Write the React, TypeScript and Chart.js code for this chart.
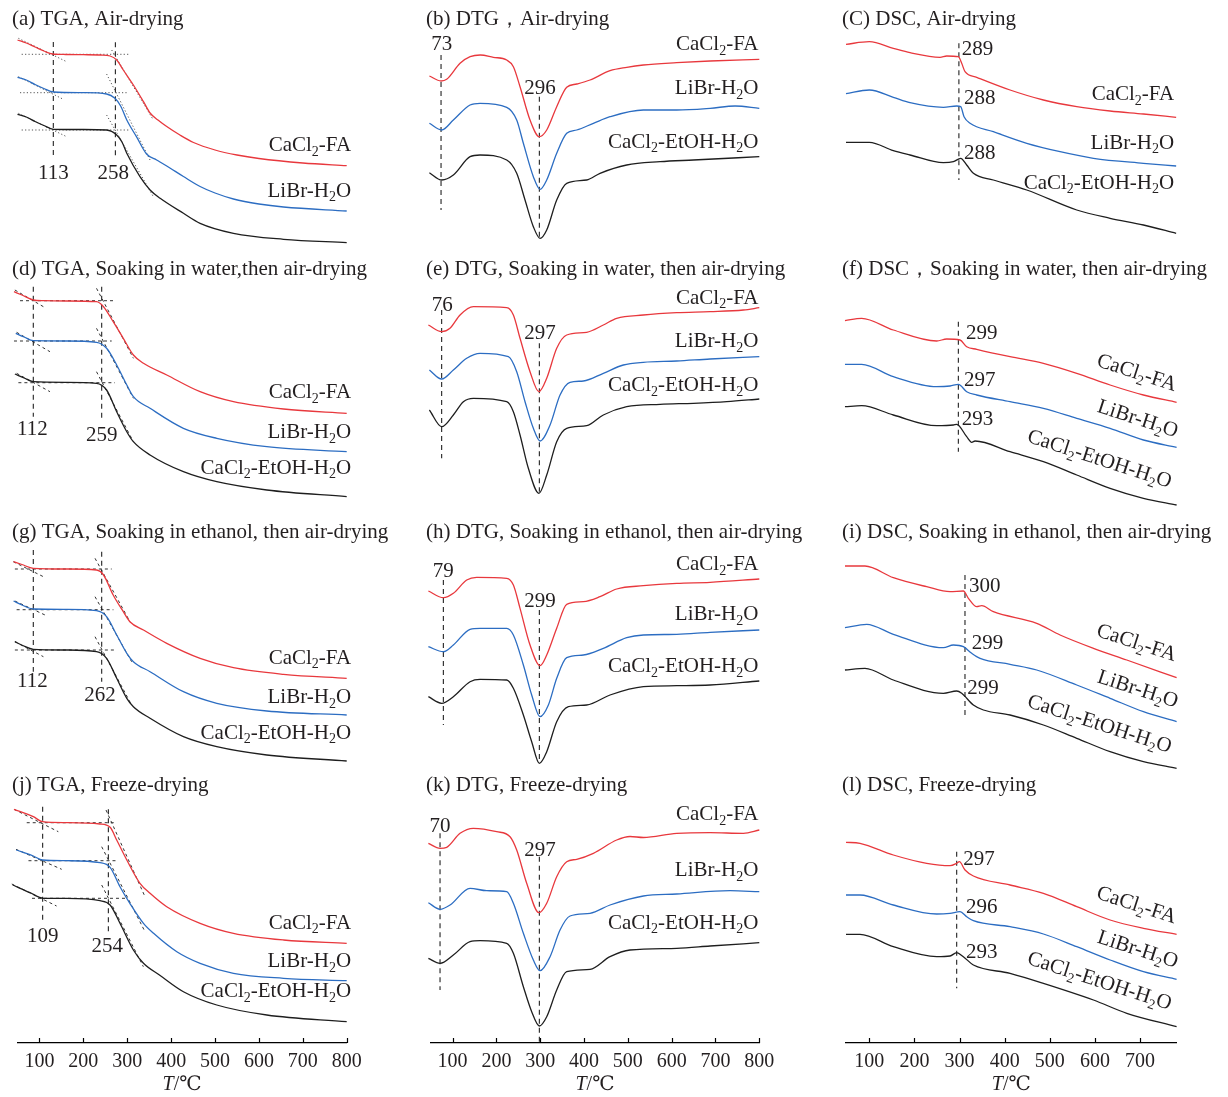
import React, { useEffect, useRef } from 'react';
import { Chart, registerables } from 'chart.js';
Chart.register(...registerables);

type Pt = [number, number];
const FONT = '"Liberation Serif", "Times New Roman", "DejaVu Serif", serif';
const RED = '#e8383d';
const BLUE = '#2c6dc2';
const BLACK = '#1e1e1e';
const INK = '#231f20';

// ---- x-axis ticks (°C) ----
const TGA_TICKS = [100, 200, 300, 400, 500, 600, 700, 800];
const DTG_TICKS = [100, 200, 300, 400, 500, 600, 700, 800];
const DSC_TICKS = [100, 200, 300, 400, 500, 600, 700];

// series names (underscore = subscript)
const FA = 'CaCl_2-FA';
const LB = 'LiBr-H_2O';
const ET = 'CaCl_2-EtOH-H_2O';

// ---- signals (T °C, relative offset in a.u., larger = lower in panel) ----
// (a) TGA air-drying
const aRed: Pt[] = [[50,40],[70,43],[90,47],[110,51],[130,54],[160,54.5],[200,54.7],[240,55],[261,56],[276,60],[291,70],[314,85],[337,101.7],[352,113],[370,120],[390,126.5],[420,135],[451,142.5],[500,150],[550,155],[600,158.5],[700,163],[800,165.7]];
const aBlue: Pt[] = [[50,77.3],[70,80],[90,84.5],[110,88.5],[132,92],[200,92.7],[253,94],[272,98.3],[285,106],[299,120],[321,136.7],[344,154],[367,160],[390,166],[428,176.5],[466,186.5],[500,193],[542,199],[600,204],[656,207],[800,211]];
const aBlack: Pt[] = [[50,114.3],[70,117],[90,121.5],[110,125.5],[132,129.3],[200,129.5],[253,130],[276,135],[288,142],[299,153.3],[329,176.7],[352,190],[375,198.3],[428,213.3],[466,223.3],[542,233.3],[656,239.3],[800,242.7]];
// (d) TGA water
const dRed: Pt[] = [[42,36.7],[60,40],[86,45],[110,45.7],[162,46],[230,46.7],[246,51.7],[268,66.7],[291,83.3],[314,100],[337,108.3],[390,120],[466,136.7],[542,146.7],[656,154],[800,158.3]];
const dBlue: Pt[] = [[46,78.3],[65,82],[86,85.7],[162,86],[230,87.3],[253,93.3],[276,110],[299,130],[314,141.7],[352,153.3],[428,173.3],[504,183.3],[618,191.7],[800,196.7]];
const dBlack: Pt[] = [[44,119],[65,123],[86,126.7],[162,127.3],[230,128.3],[253,135],[276,156.7],[299,176.7],[314,186.7],[352,200],[428,216.7],[504,226.7],[618,235],[800,241.7]];
// (g) TGA ethanol
const gRed: Pt[] = [[41,46.7],[60,49.5],[86,53.3],[162,54],[230,55],[246,60],[268,80],[291,96.7],[306,106.7],[337,115],[390,128.3],[466,143.3],[542,152.7],[656,159.3],[800,163.3]];
const gBlue: Pt[] = [[41,86],[60,90],[86,94],[162,94.3],[230,95.7],[253,101.7],[276,120],[299,138.3],[314,146.7],[352,156.7],[428,176.7],[504,188.3],[618,196],[800,200]];
const gBlack: Pt[] = [[44,126.7],[62,130.5],[86,134.3],[162,135],[230,136.7],[253,143.3],[276,163.3],[299,183.3],[314,191.7],[352,203.3],[428,221.7],[504,231.7],[618,240],[800,246]];
// (j) TGA freeze
const jRed: Pt[] = [[42,39.3],[86,46.7],[107,51.7],[162,52.7],[238,54],[261,57.3],[276,70],[299,90],[329,113.3],[352,123.3],[390,136.7],[466,153.3],[542,163.3],[656,170],[800,173.3]];
const jBlue: Pt[] = [[47,80],[86,86],[107,90],[162,90.7],[238,92.7],[261,97.3],[283.5,116.7],[306,133.3],[337,153.3],[360,163.3],[413,181.7],[466,193.3],[542,203.3],[656,208.3],[800,210.7]];
const jBlack: Pt[] = [[39,115],[78.5,122.7],[109,128.3],[162,128.3],[238,130.7],[261,135],[283.5,153.3],[314,180],[337,193.3],[375,205.5],[428,221.7],[504,235],[618,245],[800,251.7]];
// (b) DTG air
const bRed: Pt[] = [[47,76],[73.6,81],[86.5,79.3],[117,63.3],[140,56.7],[163,55],[193,57.3],[223.5,60],[238.7,66.7],[253.9,86.7],[276.7,120],[298,136.7],[314.8,130],[337.6,106.7],[360.4,87.3],[383.3,84],[413.7,80],[459.3,70.7],[497.4,67.3],[535.4,65],[611.5,62.7],[687.6,61],[800,59.3]];
const bBlue: Pt[] = [[47,123.3],[75,130],[101.7,120],[139.8,105],[162.6,103.3],[223.5,107.3],[246.3,120],[261.5,143.3],[284.3,176.7],[299.6,189.3],[314.8,180],[337.6,153.3],[360.4,133.3],[383.3,130],[421.3,123.3],[459.3,116.7],[535.4,110],[611.5,110],[687.6,108.3],[744.7,106],[800,108.3]];
const bBlack: Pt[] = [[47,172.7],[75,180],[101.7,175],[139.8,156.7],[162.6,155],[223.5,160],[246.3,173.3],[265.3,200],[284.3,226.7],[299.6,238.3],[314.8,230],[337.6,200],[360.4,183.3],[406,180],[436.5,173.3],[497.4,165],[573.5,161.7],[649.6,160],[800,156.7]];
// (e) DTG water
const eRed: Pt[] = [[44.7,70],[75,76.7],[94,73.3],[117,60],[147.4,51.7],[223.5,52.7],[238.7,60],[253.9,83.3],[276.7,116.7],[297,136.7],[314.8,123.3],[337.6,93.3],[360.4,80],[406,77.3],[444,70],[474.5,63.3],[535.4,60],[611.5,57.7],[687.6,56.7],[763.7,55],[800,52.7]];
const eBlue: Pt[] = [[47,115],[75,124],[101.7,115],[132.2,103.3],[162.6,98.3],[227.3,101.7],[246.3,116.7],[265.3,146.7],[284.3,173.3],[299.6,186],[322.4,170],[345.2,140],[368,127.3],[398.5,126],[444,118.3],[489.8,110],[535.4,107.3],[611.5,106],[687.6,104],[800,101.7]];
const eBlack: Pt[] = [[47,155],[75,171.7],[101.7,160],[124.6,146.7],[147.4,143.3],[223.5,146.7],[238.7,156.7],[253.9,180],[272.9,213.3],[297,238.3],[314.8,220],[337.6,186.7],[360.4,173.3],[406,170.7],[444,160],[497.4,151.7],[573.5,149.3],[649.6,148.3],[725.7,146.7],[800,144]];
// (h) DTG ethanol
const hRed: Pt[] = [[44.7,76],[78.9,82.7],[101.7,78.3],[132.2,65],[155,62.3],[223.5,63.3],[238.7,70],[253.9,93.3],[276.7,130],[299.6,150.7],[314.8,140],[337.6,113.3],[360.4,89.3],[398.5,86.7],[436.5,81.7],[474.5,74],[535.4,70.7],[611.5,68.3],[687.6,67.3],[800,64]];
const hBlue: Pt[] = [[44.7,131.7],[78.9,136.7],[101.7,130],[139.8,114.3],[162.6,113.3],[223.5,113.3],[238.7,120],[261.5,150],[280.5,180],[299.6,201.7],[318.6,190],[337.6,163.3],[360.4,142.7],[398.5,140],[444,133.3],[497.4,122.7],[535.4,120],[611.5,119.3],[687.6,117.3],[800,115]];
const hBlack: Pt[] = [[44.7,181.7],[75,188.3],[101.7,181.7],[139.8,166.7],[162.6,164.3],[223.5,165],[238.7,173.3],[261.5,200],[280.5,226.7],[298,248.3],[314.8,236.7],[337.6,206.7],[364.2,191.7],[406,190],[459.3,180],[535.4,171.7],[611.5,170.7],[687.6,170],[800,166]];
// (k) DTG freeze
const kRed: Pt[] = [[44.7,73.3],[71.3,78.3],[86.5,77.3],[117,63.3],[147.4,58.3],[200.6,61.7],[231.1,66.7],[246.3,80],[269.1,113.3],[297,142.7],[314.8,133.3],[337.6,106.7],[360.4,91.7],[383.3,89.3],[421.3,83.3],[474.5,70],[505,66.5],[535.4,67.5],[611.5,63.3],[687.6,62.7],[763.7,63.3],[800,60]];
const kBlue: Pt[] = [[44.7,132.7],[71.3,139.3],[94.1,135],[139.8,118.3],[177.8,120.7],[223.5,121.7],[238.7,133.3],[261.5,163.3],[284.3,190],[299.6,200.7],[322.4,186.7],[345.2,160],[368,146],[413.7,143.3],[459.3,135],[535.4,126],[611.5,124],[733.3,120.7],[800,121.7]];
const kBlack: Pt[] = [[44.7,188.3],[71.3,193.3],[101.7,185],[139.8,171.7],[162.6,170.7],[223.5,173.3],[238.7,183.3],[261.5,216.7],[280.5,241.7],[298,256],[314.8,246.7],[337.6,220],[360.4,201.7],[413.7,199.3],[459.3,186.7],[505,180],[611.5,178.3],[687.6,176],[800,172.7]];
// (c) DSC air
const cRed: Pt[] = [[48.3,44.3],[100,41.7],[153.2,48.3],[190.2,52.7],[256.7,57.3],[271.5,56],[297.3,56.7],[304.7,63.3],[312.1,71.7],[338,77.3],[411.9,90],[485.8,100],[559.7,106.7],[633.6,111],[707.5,114],[780,117.3]];
const cBlue: Pt[] = [[48.3,93.7],[100,90],[153.2,97.3],[190.2,102.7],[264.1,107.3],[293.6,106],[302.5,106.7],[309.9,116.7],[323.2,123.3],[374.9,131.7],[448.9,143.3],[522.8,151.7],[596.7,158.3],[707.5,163.3],[780,166]];
const cBlack: Pt[] = [[48.3,142.3],[100,142.3],[153.2,150.7],[190.2,155],[264.1,162.7],[286.3,161.7],[302.5,158.3],[315.8,165],[330.6,173.3],[374.9,180],[448.9,190],[559.7,210],[633.6,218.3],[707.5,225],[780,233.3]];
// (f) DSC water
const fRed: Pt[] = [[46,65.7],[83,63.3],[153.2,75],[249.3,86],[271.5,84],[301,85],[315.8,91.7],[338,94.3],[411.9,101.7],[485.8,108.3],[559.7,118.3],[633.6,130],[707.5,140],[781,147.3]];
const fBlue: Pt[] = [[46,109.3],[83,109.3],[153.2,121.7],[249.3,131.7],[278.9,131],[297.3,129.3],[315.8,136.7],[338,140],[411.9,146.7],[485.8,153.3],[559.7,163.3],[633.6,173.3],[707.5,185],[781,192.3]];
const fBlack: Pt[] = [[46,151.7],[83,150.7],[153.2,160],[249.3,170.7],[286.3,170],[293.6,169.3],[315.8,181.7],[326.9,187.3],[334.3,186],[411.9,196.7],[485.8,206.7],[559.7,220],[633.6,233.3],[707.5,243.3],[781,250]];
// (i) DSC ethanol
const iRed: Pt[] = [[46,51],[90.4,51],[153.2,62.7],[227.1,71.7],[278.9,76.7],[308.4,76],[319.5,83.3],[338,91.7],[349.1,90.7],[374.9,96.7],[471,108.3],[522.8,120],[596.7,133.3],[670.6,145],[781,162.7]];
const iBlue: Pt[] = [[46,112.7],[94.1,109.3],[153.2,119.3],[264.1,132.7],[286.3,130],[308.4,131.7],[326.9,138.3],[345.4,143.3],[411.9,149.3],[471,155],[559.7,170],[633.6,183.3],[707.5,196.7],[781,206.7]];
const iBlack: Pt[] = [[46,155],[90.4,153.3],[153.2,165],[264.1,178.3],[293.6,176],[304.7,178.3],[330.6,190],[352.8,195],[411.9,200],[485.8,210],[559.7,223.3],[633.6,236.7],[707.5,246.7],[781,253.3]];
// (l) DSC freeze
const lRed: Pt[] = [[48.3,72.3],[79.3,73.3],[153.2,85],[227.1,93.3],[278.9,95.7],[293.6,93.3],[299.6,91.7],[312.1,100],[330.6,106],[411.9,115],[485.8,123.3],[559.7,136.7],[633.6,150],[707.5,158.3],[781,164.3]];
const lBlue: Pt[] = [[48.3,125],[79.3,125],[153.2,135],[249.3,144],[278.9,143.3],[301,141.7],[315.8,146.7],[330.6,150.7],[411.9,156.7],[485.8,164],[559.7,176.7],[633.6,190],[707.5,201.7],[781,209.3]];
const lBlack: Pt[] = [[48.3,164.3],[79.3,164.3],[153.2,176.7],[249.3,186.7],[278.9,186],[293.6,182.7],[308.4,186.7],[330.6,195],[411.9,203.3],[485.8,213.3],[596.7,230],[670.6,243.3],[781,256.7]];

// ---- onset / peak marker lines: [T, yTop, yBottom] ----
const aMarks = [[131.6,42,158],[273,42.3,159.3]];
const dMarks = [[86,31.7,161.7],[241.8,31.7,166.7]];
const gMarks = [[86,35,156.7],[241.8,36.7,166.7]];
const jMarks = [[107.3,36.7,153.3],[257,39.3,165]];
const bMarks = [[73.6,55,210],[298,96.7,238.3]];
const eMarks = [[75,55,203.3],[298,88.3,236.7]];
const hMarks = [[78.9,65,210],[298,95,246.7]];
const kMarks = [[71.3,63.3,220],[298,86.7,271.7]];
const cMarks = [[298.5,43.3,180]];
const fMarks = [[297.3,66.7,196.7]];
const iMarks = [[312,60,201.7]];
const lMarks = [[293.6,81.7,218.3]];

// ---- tangent / baseline guides: [x1,y1,x2,y2] ----
const aGuides = [[59.5,54.3,306,54.3],[55.7,92.7,302.5,92.7],[59.5,130,302.5,130],[52,38.3,162,61.7],[52,76.7,154.4,99.3],[52,113.3,162,136.7],[264.6,50,359.5,120],[253,74,352,160],[253,115,359.5,196.7]];
const dGuides = [[55.7,45.7,268.5,45.7],[42,86,264.6,86],[52,127.7,272,127.7],[44,35,109,51.7],[48,77.3,124,96.7],[48,118.3,124,136.7],[230,33.3,314,103.3],[230,73.3,314,143.3],[230,116.7,314,186.7]];
const gGuides = [[44,54,264.6,54],[48,94.7,268.5,94.7],[44,135,272,135],[40.5,46.7,109,61.7],[44,86,112.7,100],[44,126.7,109,141.7],[226.6,43.3,306.3,106.7],[226.6,81.7,310,146.7],[226.6,121.7,310,190]];
const jGuides = [[71,52.7,272,52.7],[75,90.7,276,90.7],[83,128.3,298.7,128.3],[42,39.3,143,61.7],[46.6,79.3,150.6,99.3],[37,114,139,136],[251.6,40,340.5,126.7],[241.8,76.7,340.5,161.7],[241.8,115,336.7,196.7]];

// ---- value labels ----
type Lbl = { t: string; x: number; y: number; a: 'left' | 'center' | 'right'; r?: number };
const aNums: Lbl[] = [{ t: '113', x: 131.6, y: 172, a: 'center' }, { t: '258', x: 268, y: 172, a: 'center' }];
const dNums: Lbl[] = [{ t: '112', x: 83.8, y: 172.5, a: 'center' }, { t: '259', x: 241.8, y: 179, a: 'center' }];
const gNums: Lbl[] = [{ t: '112', x: 83.8, y: 165, a: 'center' }, { t: '262', x: 238, y: 179, a: 'center' }];
const jNums: Lbl[] = [{ t: '109', x: 107.3, y: 165, a: 'center' }, { t: '254', x: 254.7, y: 175, a: 'center' }];
const bNums: Lbl[] = [{ t: '73', x: 75, y: 43, a: 'center' }, { t: '296', x: 299.6, y: 87, a: 'center' }];
const eNums: Lbl[] = [{ t: '76', x: 76.6, y: 49, a: 'center' }, { t: '297', x: 299.6, y: 76.7, a: 'center' }];
const hNums: Lbl[] = [{ t: '79', x: 78.9, y: 55, a: 'center' }, { t: '299', x: 299.6, y: 85, a: 'center' }];
const kNums: Lbl[] = [{ t: '70', x: 71.3, y: 55, a: 'center' }, { t: '297', x: 299.6, y: 79, a: 'center' }];
const cNums: Lbl[] = [{ t: '289', x: 304.7, y: 48.3, a: 'left' }, { t: '288', x: 309.9, y: 96.7, a: 'left' }, { t: '288', x: 309.9, y: 151.7, a: 'left' }];
const fNums: Lbl[] = [{ t: '299', x: 314.3, y: 76.7, a: 'left' }, { t: '297', x: 309.9, y: 124, a: 'left' }, { t: '293', x: 304.7, y: 162.7, a: 'left' }];
const iNums: Lbl[] = [{ t: '300', x: 321, y: 70, a: 'left' }, { t: '299', x: 327, y: 126.7, a: 'left' }, { t: '299', x: 317.3, y: 171.7, a: 'left' }];
const lNums: Lbl[] = [{ t: '297', x: 308.4, y: 88.3, a: 'left' }, { t: '296', x: 314.3, y: 135.8, a: 'left' }, { t: '293', x: 314.3, y: 180.8, a: 'left' }];

// ---- series name labels ----
const aNames: Lbl[] = [{ t: FA, x: 810, y: 144, a: 'right' }, { t: LB, x: 810, y: 189.5, a: 'right' }];
const dNames: Lbl[] = [{ t: FA, x: 810, y: 136, a: 'right' }, { t: LB, x: 810, y: 176, a: 'right' }, { t: ET, x: 810, y: 211.7, a: 'right' }];
const gNames: Lbl[] = [{ t: FA, x: 810, y: 141.7, a: 'right' }, { t: LB, x: 810, y: 181, a: 'right' }, { t: ET, x: 810, y: 216.7, a: 'right' }];
const jNames: Lbl[] = [{ t: FA, x: 810, y: 151.7, a: 'right' }, { t: LB, x: 810, y: 190, a: 'right' }, { t: ET, x: 810, y: 220, a: 'right' }];
const bNames: Lbl[] = [{ t: FA, x: 798, y: 43.3, a: 'right' }, { t: LB, x: 798, y: 87.3, a: 'right' }, { t: ET, x: 798, y: 140.7, a: 'right' }];
const eNames: Lbl[] = [{ t: FA, x: 798, y: 41.7, a: 'right' }, { t: LB, x: 798, y: 85, a: 'right' }, { t: ET, x: 798, y: 129.3, a: 'right' }];
const hNames: Lbl[] = [{ t: FA, x: 798, y: 48.3, a: 'right' }, { t: LB, x: 798, y: 98.3, a: 'right' }, { t: ET, x: 798, y: 150, a: 'right' }];
const kNames: Lbl[] = [{ t: FA, x: 798, y: 43.3, a: 'right' }, { t: LB, x: 798, y: 99.3, a: 'right' }, { t: ET, x: 798, y: 151.7, a: 'right' }];
const cNames: Lbl[] = [{ t: FA, x: 775.5, y: 93.3, a: 'right' }, { t: LB, x: 775.5, y: 141.7, a: 'right' }, { t: ET, x: 775.5, y: 181.7, a: 'right' }];
const fNames: Lbl[] = [{ t: FA, x: 693.5, y: 116.7, a: 'center', r: 18 }, { t: LB, x: 695.7, y: 162.7, a: 'center', r: 18 }, { t: ET, x: 611, y: 203, a: 'center', r: 18 }];
const iNames: Lbl[] = [{ t: FA, x: 693, y: 126.7, a: 'center', r: 18 }, { t: LB, x: 696, y: 173, a: 'center', r: 18 }, { t: ET, x: 611, y: 208, a: 'center', r: 18 }];
const lNames: Lbl[] = [{ t: FA, x: 693, y: 134, a: 'center', r: 18 }, { t: LB, x: 696, y: 178.3, a: 'center', r: 18 }, { t: ET, x: 611, y: 210, a: 'center', r: 18 }];

// ---- layout ----
const COLS = [
  { left: 0, width: 410, areaL: 17.5, areaR: 346.7, min: 50, max: 800, ticks: TGA_TICKS, titleX: 12 },
  { left: 410, width: 400, areaL: 430.7, areaR: 759.3, min: 50, max: 800, ticks: DTG_TICKS, titleX: 16 },
  { left: 810, width: 418, areaL: 846, areaR: 1176.6, min: 48.3, max: 781, ticks: DSC_TICKS, titleX: 32 },
];
const ROWS = [
  { top: 0, height: 255, areaH: 255, titleY: 18 },
  { top: 255, height: 260, areaH: 260, titleY: 13 },
  { top: 515, height: 255, areaH: 255, titleY: 16 },
  { top: 770, height: 327, areaH: 273, titleY: 14 },
];

interface Spec { col: number; row: number; title: string; curves: Pt[][]; marks: number[][]; guides?: number[][]; dotted?: boolean; nums: Lbl[]; names: Lbl[] }
const PANELS: Spec[] = [
  { col: 0, row: 0, title: '(a) TGA, Air-drying', curves: [aRed, aBlue, aBlack], marks: aMarks, guides: aGuides, dotted: true, nums: aNums, names: aNames },
  { col: 1, row: 0, title: '(b) DTG，Air-drying', curves: [bRed, bBlue, bBlack], marks: bMarks, nums: bNums, names: bNames },
  { col: 2, row: 0, title: '(C) DSC, Air-drying', curves: [cRed, cBlue, cBlack], marks: cMarks, nums: cNums, names: cNames },
  { col: 0, row: 1, title: '(d) TGA, Soaking in water,then air-drying', curves: [dRed, dBlue, dBlack], marks: dMarks, guides: dGuides, nums: dNums, names: dNames },
  { col: 1, row: 1, title: '(e) DTG, Soaking in water, then air-drying', curves: [eRed, eBlue, eBlack], marks: eMarks, nums: eNums, names: eNames },
  { col: 2, row: 1, title: '(f) DSC，Soaking in water, then air-drying', curves: [fRed, fBlue, fBlack], marks: fMarks, nums: fNums, names: fNames },
  { col: 0, row: 2, title: '(g) TGA, Soaking in ethanol, then air-drying', curves: [gRed, gBlue, gBlack], marks: gMarks, guides: gGuides, nums: gNums, names: gNames },
  { col: 1, row: 2, title: '(h) DTG, Soaking in ethanol, then air-drying', curves: [hRed, hBlue, hBlack], marks: hMarks, nums: hNums, names: hNames },
  { col: 2, row: 2, title: '(i) DSC, Soaking in ethanol, then air-drying', curves: [iRed, iBlue, iBlack], marks: iMarks, nums: iNums, names: iNames },
  { col: 0, row: 3, title: '(j) TGA, Freeze-drying', curves: [jRed, jBlue, jBlack], marks: jMarks, guides: jGuides, nums: jNums, names: jNames },
  { col: 1, row: 3, title: '(k) DTG, Freeze-drying', curves: [kRed, kBlue, kBlack], marks: kMarks, nums: kNums, names: kNames },
  { col: 2, row: 3, title: '(l) DSC, Freeze-drying', curves: [lRed, lBlue, lBlack], marks: lMarks, nums: lNums, names: lNames },
];

function parseRich(s: string): [string, boolean][] {
  const out: [string, boolean][] = [];
  let buf = '';
  for (let i = 0; i < s.length; i++) {
    if (s[i] === '_' && i + 1 < s.length) {
      if (buf) out.push([buf, false]);
      buf = '';
      out.push([s[i + 1], true]);
      i++;
    } else buf += s[i];
  }
  if (buf) out.push([buf, false]);
  return out;
}

function drawRich(ctx: CanvasRenderingContext2D, s: string, x: number, y: number, align: string, size: number, rot = 0) {
  const segs = parseRich(s);
  const big = `${size}px ${FONT}`;
  const small = `${Math.round(size * 0.68)}px ${FONT}`;
  let w = 0;
  const widths = segs.map(([t, sub]) => {
    ctx.font = sub ? small : big;
    const m = ctx.measureText(t).width;
    w += m;
    return m;
  });
  ctx.save();
  ctx.translate(x, y);
  ctx.rotate((rot * Math.PI) / 180);
  let cx = align === 'left' ? 0 : align === 'right' ? -w : -w / 2;
  const base = size * 0.34;
  ctx.textBaseline = 'alphabetic';
  ctx.textAlign = 'left';
  segs.forEach(([t, sub], i) => {
    ctx.font = sub ? small : big;
    ctx.fillText(t, cx, sub ? base + size * 0.22 : base);
    cx += widths[i];
  });
  ctx.restore();
}

const textPlugin = {
  id: 'panelText',
  afterDraw(chart: any, _args: any, opts: any) {
    const ctx: CanvasRenderingContext2D = chart.ctx;
    const xs = chart.scales.x;
    const ys = chart.scales.y;
    ctx.save();
    ctx.fillStyle = INK;
    drawRich(ctx, opts.title, opts.titleX, opts.titleY, 'left', 21);
    for (const l of opts.labels as Lbl[]) {
      drawRich(ctx, l.t, xs.getPixelForValue(l.x), ys.getPixelForValue(l.y), l.a, 21, l.r || 0);
    }
    if (opts.axis) {
      const area = chart.chartArea;
      ctx.strokeStyle = '#000';
      ctx.lineWidth = 1.2;
      for (const t of xs.ticks) {
        const p = Math.round(xs.getPixelForValue(t.value)) + 0.5;
        ctx.beginPath();
        ctx.moveTo(p, area.bottom);
        ctx.lineTo(p, area.bottom - 5);
        ctx.stroke();
      }
      const cxm = (area.left + area.right) / 2;
      const yb = area.bottom + 47;
      ctx.font = `italic 20px ${FONT}`;
      const wT = ctx.measureText('T').width;
      ctx.font = `20px ${FONT}`;
      const wR = ctx.measureText('/℃').width;
      const x0 = cxm - (wT + wR) / 2;
      ctx.textBaseline = 'alphabetic';
      ctx.textAlign = 'left';
      ctx.font = `italic 20px ${FONT}`;
      ctx.fillText('T', x0, yb);
      ctx.font = `20px ${FONT}`;
      ctx.fillText('/℃', x0 + wT, yb);
    }
    ctx.restore();
  },
};

function lineDs(pts: number[][], color: string, width: number, dash: number[], smooth: boolean) {
  return {
    data: pts.map(([x, y]) => ({ x, y })),
    borderColor: color,
    borderWidth: width,
    borderDash: dash,
    pointRadius: 0,
    fill: false,
    tension: smooth ? 0.4 : 0,
    cubicInterpolationMode: smooth ? 'monotone' : 'default',
    clip: false,
  };
}

function buildConfig(spec: Spec): any {
  const c = COLS[spec.col];
  const r = ROWS[spec.row];
  const isBottom = spec.row === 3;
  const datasets: any[] = [];
  const colors = [RED, BLUE, BLACK];
  spec.curves.forEach((pts, i) => datasets.push(lineDs(pts, colors[i], 1.3, [], true)));
  for (const m of spec.marks) datasets.push(lineDs([[m[0], m[1]], [m[0], m[2]]], '#222', 1.1, [5, 4], false));
  for (const g of spec.guides || []) {
    datasets.push(lineDs([[g[0], g[1]], [g[2], g[3]]], spec.dotted ? '#555' : '#333', 1, spec.dotted ? [1.2, 2.2] : [3, 3], false));
  }
  return {
    type: 'line',
    data: { datasets },
    plugins: [textPlugin],
    options: {
      responsive: false,
      animation: false,
      devicePixelRatio: 1,
      layout: { padding: { left: c.areaL - c.left, right: c.left + c.width - c.areaR, top: 0, bottom: 0 } },
      plugins: {
        legend: { display: false },
        tooltip: { enabled: false },
        panelText: {
          title: spec.title,
          titleX: c.titleX,
          titleY: r.titleY,
          labels: [...spec.nums, ...spec.names],
          axis: isBottom,
        },
      },
      scales: {
        x: {
          type: 'linear',
          min: c.min,
          max: c.max,
          display: isBottom,
          afterBuildTicks: (s: any) => {
            s.ticks = c.ticks.map((v) => ({ value: v }));
          },
          afterFit: (s: any) => {
            s.height = r.height - r.areaH;
          },
          grid: { display: true, drawOnChartArea: false, drawTicks: false },
          border: { display: true, color: '#000', width: 1.2 },
          ticks: { font: { family: FONT, size: 20 }, color: INK, padding: 7, maxRotation: 0, autoSkip: false },
        },
        y: { type: 'linear', display: false, min: 0, max: r.areaH, reverse: true },
      },
    },
  };
}

function Panel({ spec }: { spec: Spec }) {
  const ref = useRef<HTMLCanvasElement>(null);
  const c = COLS[spec.col];
  const r = ROWS[spec.row];
  useEffect(() => {
    const chart = new Chart(ref.current as HTMLCanvasElement, buildConfig(spec));
    return () => chart.destroy();
  }, [spec]);
  return (
    <canvas
      ref={ref}
      width={c.width}
      height={r.height}
      style={{ position: 'absolute', left: c.left, top: r.top, width: c.width, height: r.height }}
    />
  );
}

export default function App() {
  return (
    <div style={{ position: 'absolute', left: 0, top: 0, width: 1228, height: 1097, background: '#fff', overflow: 'hidden' }}>
      {PANELS.map((p, i) => (
        <Panel key={i} spec={p} />
      ))}
    </div>
  );
}
